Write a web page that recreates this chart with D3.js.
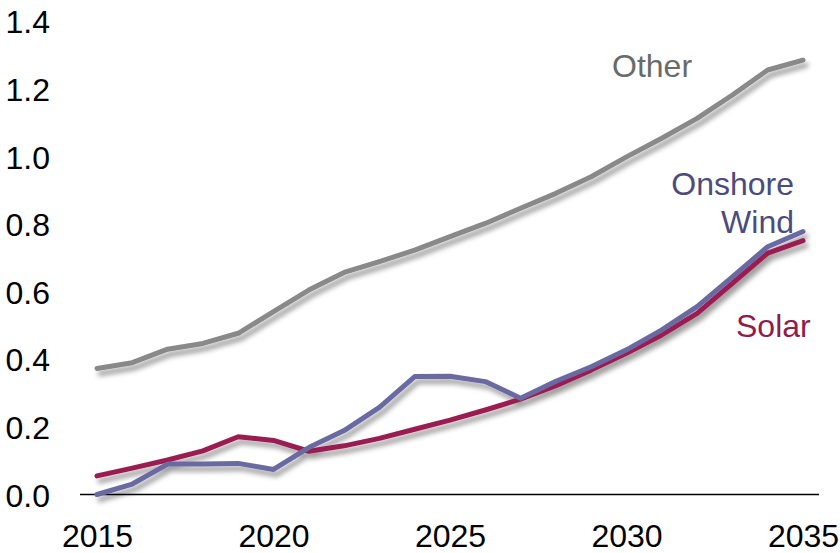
<!DOCTYPE html>
<html>
<head>
<meta charset="utf-8">
<script src="https://cdn.jsdelivr.net/npm/d3@7"></script>
<style>
  html, body { margin: 0; padding: 0; background: #fff; }
  svg { display: block; font-family: "Liberation Sans", Arial, sans-serif; }
</style>
</head>
<body>
<svg id="chart" width="840" height="553"></svg>
<script>
// Annual capacity additions by technology
const years = d3.range(2015, 2036);
const other = [0.373, 0.390, 0.430, 0.447, 0.477, 0.541, 0.605, 0.657, 0.689, 0.723, 0.763,
               0.802, 0.847, 0.891, 0.940, 0.999, 1.054, 1.113, 1.182, 1.256, 1.285];
const onshoreWind = [0.000, 0.031, 0.090, 0.090, 0.092, 0.074, 0.139, 0.189, 0.258, 0.349, 0.350,
                     0.334, 0.285, 0.335, 0.378, 0.428, 0.487, 0.556, 0.644, 0.733, 0.778];
const solar = [0.055, 0.078, 0.102, 0.129, 0.171, 0.160, 0.128, 0.144, 0.166, 0.193, 0.220,
               0.250, 0.282, 0.322, 0.368, 0.418, 0.472, 0.536, 0.625, 0.714, 0.751];
const yTicks = [0, 0.2, 0.4, 0.6, 0.8, 1.0, 1.2, 1.4];
const xTicks = [2015, 2020, 2025, 2030, 2035];

const series = [
  { name: "Other", values: other, color: "#898989" },
  { name: "Solar", values: solar, color: "#9b1f51" },
  { name: "Onshore Wind", values: onshoreWind, color: "#6b6aa3" }
];

const svg = d3.select("#chart");

const x = d3.scaleLinear().domain([2015, 2035]).range([97, 803]);
const y = d3.scaleLinear().domain([0, 1.4]).range([494.5, 21.3]);

// soft drop shadow under the lines
const defs = svg.append("defs");
const f = defs.append("filter").attr("id", "shadow")
  .attr("x", "-10%").attr("y", "-10%").attr("width", "130%").attr("height", "140%");
f.append("feDropShadow")
  .attr("dx", 3).attr("dy", 5).attr("stdDeviation", 2.6)
  .attr("flood-color", "#000").attr("flood-opacity", 0.38);

// y tick labels (no axis line)
const yAxis = d3.axisLeft(y).tickValues(yTicks).tickSize(0).tickPadding(0)
  .tickFormat(d3.format(".1f"));
const gy = svg.append("g").attr("transform", "translate(50,0)").call(yAxis);
gy.select(".domain").remove();
gy.selectAll("text")
  .attr("font-size", 32).attr("font-family", "Liberation Sans, Arial, sans-serif")
  .attr("fill", "#000").attr("dy", "0.36em");

// x tick labels
const xAxis = d3.axisBottom(x).tickValues(xTicks).tickSize(0).tickPadding(0)
  .tickFormat(d3.format("d"));
const gx = svg.append("g").attr("transform", "translate(0,524)").call(xAxis);
gx.select(".domain").remove();
gx.selectAll("text")
  .attr("font-size", 32).attr("font-family", "Liberation Sans, Arial, sans-serif")
  .attr("fill", "#000").attr("dy", "0.71em");

// baseline at zero
svg.append("line")
  .attr("x1", x.range()[0] - 17).attr("x2", x.range()[1] + 16)
  .attr("y1", y(0)).attr("y2", y(0))
  .attr("stroke", "#000").attr("stroke-width", 1.6);

// series lines
const line = d3.line().x((d, i) => x(years[i])).y(d => y(d));
svg.append("g").attr("filter", "url(#shadow)")
  .selectAll("path").data(series).join("path")
  .attr("d", d => line(d.values))
  .attr("fill", "none")
  .attr("stroke", d => d.color)
  .attr("stroke-width", 5)
  .attr("stroke-linejoin", "round")
  .attr("stroke-linecap", "round");

// direct labels
const labels = svg.append("g").attr("font-size", 32)
  .attr("font-family", "Liberation Sans, Arial, sans-serif");
labels.append("text").attr("x", 612).attr("y", 77).attr("fill", "#6a6a6a").text("Other");
labels.append("text").attr("x", 794).attr("y", 195).attr("text-anchor", "end")
  .attr("fill", "#4b4b7e").text("Onshore");
labels.append("text").attr("x", 794).attr("y", 233).attr("text-anchor", "end")
  .attr("fill", "#4b4b7e").text("Wind");
labels.append("text").attr("x", 736).attr("y", 337).attr("fill", "#8f1c4c").text("Solar");
</script>
</body>
</html>
